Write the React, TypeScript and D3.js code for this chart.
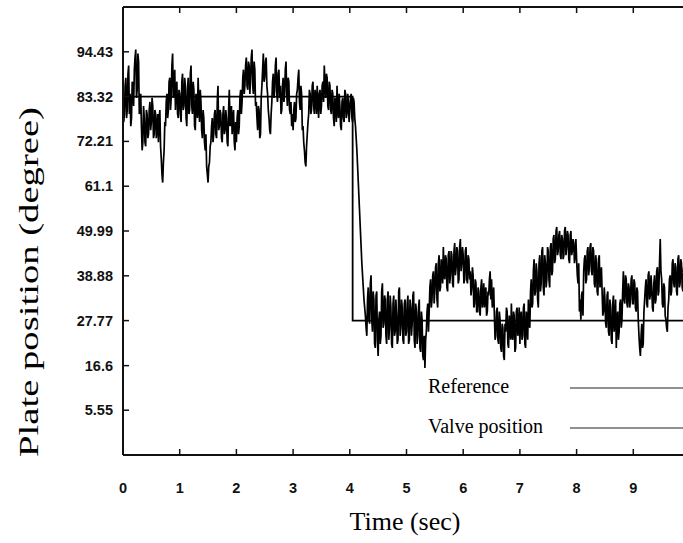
import React from 'react';
import * as d3 from 'd3';

const xTicks = [0, 1, 2, 3, 4, 5, 6, 7, 8, 9];
const yTicks = [5.55, 16.6, 27.77, 38.88, 49.99, 61.1, 72.21, 83.32, 94.43];
const yTickLabels = ['5.55', '16.6', '27.77', '38.88', '49.99', '61.1', '72.21', '83.32', '94.43'];

const refTimes = [0, 4.05, 10];
const refValues = [83.32, 27.77, 27.77];

// valve position sampled every 0.025 s (even samples) and at the half steps (odd samples)
const sampleStep = 0.025;
const valveEven = [
  83, 79, 88, 80, 91, 84, 78, 86, 90, 95, 85, 92, 80, 76, 72, 78, 71, 79, 74, 82,
  77, 81, 74, 79, 76, 72, 80, 68, 62, 70, 76, 84, 80, 88, 83, 94, 85, 80, 87, 78,
  84, 77, 89, 81, 86, 76, 88, 80, 91, 79, 85, 75, 83, 88, 77, 82, 73, 78, 70, 66,
  62, 67, 72, 78, 74, 80, 73, 86, 76, 79, 72, 81, 75, 78, 71, 85, 77, 74, 80, 70,
  72, 80, 76, 85, 82, 90, 86, 93, 85, 91, 88, 95, 84, 90, 82, 75, 80, 74, 86, 94,
  88, 93, 84, 78, 74, 82, 89, 85, 93, 82, 90, 86, 80, 88, 84, 92, 81, 87, 79, 76,
  75, 82, 78, 85, 90, 80, 84, 76, 70, 66, 74, 79, 84, 80, 87, 79, 83, 86, 78, 85,
  81, 87, 91, 83, 88, 80, 86, 79, 84, 76, 82, 86, 78, 81, 75, 83, 77, 84, 79, 82,
  80, 84, 77, 82, 76, 70, 62, 54, 46, 39, 33, 29, 24, 36, 27, 39, 25, 33, 21, 35,
  19, 30, 24, 37, 27, 33, 22, 35, 26, 31, 21, 34, 25, 29, 23, 36, 26, 31, 22, 33,
  25, 34, 23, 31, 27, 35, 21, 30, 24, 33, 20, 28, 18, 16, 25, 32, 30, 38, 33, 40,
  35, 42, 31, 44, 36, 40, 46, 38, 43, 35, 45, 39, 44, 36, 47, 41, 45, 38, 48, 42,
  44, 38, 46, 37, 43, 40, 36, 39, 32, 37, 30, 35, 29, 38, 33, 31, 36, 30, 34, 40,
  38, 33, 29, 24, 31, 22, 28, 20, 26, 18, 25, 30, 21, 27, 32, 23, 29, 21, 31, 26,
  22, 30, 24, 32, 21, 28, 33, 26, 38, 32, 43, 35, 40, 31, 44, 37, 46, 34, 42, 38,
  45, 36, 47, 40, 49, 43, 51, 45, 50, 43, 48, 44, 51, 46, 49, 42, 50, 45, 47, 44,
  43, 37, 30, 28, 35, 40, 44, 38, 46, 41, 47, 39, 45, 36, 42, 34, 44, 37, 35, 30,
  33, 26, 35, 24, 31, 22, 34, 27, 21, 30, 25, 33, 28, 40, 32, 38, 31, 36, 33, 39,
  32, 37, 30, 35, 24, 19, 27, 22, 33, 38, 31, 40, 34, 36, 30, 39, 33, 41, 35, 48,
  38, 31, 36, 28, 25, 33, 39, 35, 43, 36, 41, 34, 44, 37, 42, 35, 40, 38, 43, 36,
];
const valveOdd = [
  77, 86, 78, 89, 79, 76, 87, 81, 93, 83, 94, 79, 84, 70, 81, 72, 80, 73, 80, 75,
  83, 73, 80, 73, 79, 78, 71, 64, 67, 77, 82, 78, 87, 80, 91, 83, 90, 86, 79, 85,
  79, 87, 80, 88, 78, 85, 79, 89, 81, 87, 76, 84, 78, 81, 85, 75, 80, 72, 74, 64,
  66, 71, 76, 72, 79, 74, 82, 75, 80, 73, 79, 74, 80, 72, 80, 76, 81, 78, 72, 77,
  78, 74, 83, 79, 88, 84, 91, 86, 92, 84, 93, 86, 92, 81, 78, 81, 73, 83, 90, 87,
  92, 86, 80, 75, 79, 87, 83, 91, 84, 89, 83, 79, 86, 82, 90, 84, 88, 80, 82, 79,
  80, 77, 84, 88, 82, 86, 75, 72, 67, 71, 77, 85, 79, 86, 81, 85, 79, 82, 84, 79,
  86, 82, 86, 89, 81, 87, 80, 85, 78, 83, 77, 80, 84, 76, 82, 78, 85, 78, 84, 77,
  83, 78, 83, 78, 73, 66, 58, 50, 42, 36, 31, 26, 33, 28, 37, 28, 35, 22, 34, 23,
  28, 22, 35, 26, 34, 24, 33, 23, 34, 22, 32, 24, 33, 22, 35, 24, 33, 23, 32, 24,
  32, 22, 33, 24, 34, 23, 32, 22, 31, 21, 30, 19, 24, 23, 30, 25, 36, 31, 39, 32,
  41, 33, 42, 35, 43, 37, 39, 44, 36, 44, 37, 45, 37, 45, 39, 46, 37, 46, 40, 46,
  37, 45, 38, 44, 38, 34, 41, 31, 38, 30, 36, 30, 36, 31, 37, 35, 29, 35, 38, 33,
  31, 36, 23, 30, 23, 30, 21, 27, 19, 27, 31, 22, 29, 23, 24, 30, 20, 30, 24, 31,
  29, 23, 31, 22, 30, 23, 27, 35, 31, 40, 34, 42, 33, 42, 35, 45, 36, 44, 36, 46,
  38, 46, 39, 48, 42, 50, 44, 49, 44, 49, 43, 50, 44, 50, 43, 49, 44, 48, 42, 48,
  39, 42, 33, 34, 29, 43, 37, 45, 39, 46, 40, 46, 37, 44, 35, 43, 36, 41, 29, 36,
  27, 34, 25, 33, 23, 32, 25, 33, 28, 23, 32, 26, 35, 33, 39, 32, 37, 31, 38, 32,
  38, 31, 36, 28, 21, 24, 21, 30, 36, 32, 39, 33, 39, 31, 37, 32, 40, 34, 42, 40,
  32, 37, 29, 26, 31, 38, 34, 42, 37, 42, 35, 43, 36, 43, 36, 41, 35, 42, 37, 41,
];

const legendLabels = ['Reference', 'Valve position'];

export default function App() {
  const W = 683;
  const H = 543;
  const left = 123;
  const top = 7;
  const bottom = 455;
  const x = d3.scaleLinear().domain([0, 10]).range([left, 690]);
  const y = d3.scaleLinear().domain([-5.56, 105.54]).range([bottom, top]);

  const valvePts: [number, number][] = [];
  valveEven.forEach((v, i) => {
    valvePts.push([i * sampleStep, v]);
    valvePts.push([i * sampleStep + sampleStep / 2, valveOdd[i]]);
  });
  const refPts: [number, number][] = refTimes.map((t, i) => [t, refValues[i]]);

  const line = d3.line<[number, number]>().x((d) => x(d[0])).y((d) => y(d[1]));
  const stepLine = d3
    .line<[number, number]>()
    .x((d) => x(d[0]))
    .y((d) => y(d[1]))
    .curve(d3.curveStepAfter);

  const tickFont = { fontFamily: '"Liberation Sans", Arial, sans-serif', fontWeight: 700, fontSize: 14.5 };
  const serif = '"Liberation Serif", "Times New Roman", serif';

  return (
    <svg width={W} height={H} style={{ position: 'absolute', left: 0, top: 0, background: '#fff' }}>
      <defs>
        <clipPath id="plot">
          <rect x={left} y={top} width={W - left} height={bottom - top} />
        </clipPath>
      </defs>
      <rect x={0} y={0} width={W} height={H} fill="#fff" />
      <g clipPath="url(#plot)">
        <path d={stepLine(refPts) || ''} fill="none" stroke="#000" strokeWidth={1.8} />
        <path d={line(valvePts) || ''} fill="none" stroke="#000" strokeWidth={1.7} strokeLinejoin="miter" strokeMiterlimit={3} />
      </g>
      {/* axes frame */}
      <line x1={left} x2={W} y1={top} y2={top} stroke="#111" strokeWidth={2} />
      <line x1={left} x2={W} y1={bottom} y2={bottom} stroke="#111" strokeWidth={2} />
      <line x1={left} x2={left} y1={top} y2={bottom} stroke="#111" strokeWidth={2} />
      {xTicks.map((t) => (
        <g key={'xt' + t}>
          <line x1={x(t)} x2={x(t)} y1={bottom} y2={bottom - 6} stroke="#111" strokeWidth={1.5} />
          <line x1={x(t)} x2={x(t)} y1={top} y2={top + 6} stroke="#111" strokeWidth={1.5} />
          <text x={x(t)} y={493} textAnchor="middle" {...tickFont} fill="#111">
            {t}
          </text>
        </g>
      ))}
      {yTicks.map((t, i) => (
        <g key={'yt' + t}>
          <line x1={left} x2={left + 6} y1={y(t)} y2={y(t)} stroke="#111" strokeWidth={1.5} />
          <text x={113} y={y(t) + 5} textAnchor="end" {...tickFont} fill="#111">
            {yTickLabels[i]}
          </text>
        </g>
      ))}
      {/* legend */}
      {legendLabels.map((lab, i) => (
        <g key={lab}>
          <text x={428} y={393 + i * 40} fontFamily={serif} fontSize={20} fill="#000">
            {lab}
          </text>
          <line x1={570} x2={W} y1={388 + i * 40} y2={388 + i * 40} stroke="#222" strokeWidth={1.2} />
        </g>
      ))}
      {/* axis titles */}
      <text x={405} y={530} textAnchor="middle" fontFamily={serif} fontSize={26} fill="#000">
        Time (sec)
      </text>
      <text
        transform={`translate(38, 282) rotate(-90)`}
        textAnchor="middle"
        fontFamily={serif}
        fontSize={27}
        textLength={350}
        lengthAdjust="spacingAndGlyphs"
        fill="#000"
      >
        Plate position (degree)
      </text>
    </svg>
  );
}
